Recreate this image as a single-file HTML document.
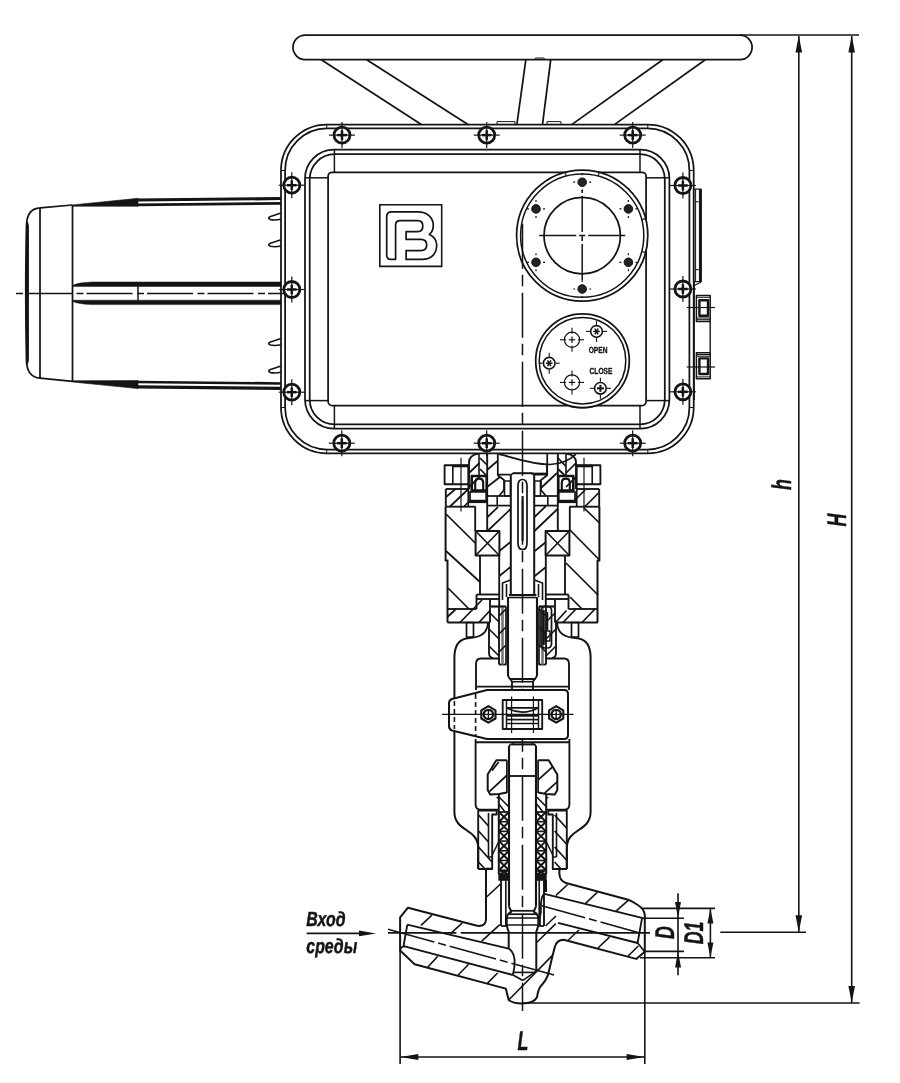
<!DOCTYPE html>
<html lang="ru"><head><meta charset="utf-8"><title>Клапан с электроприводом</title>
<style>
html,body{margin:0;padding:0;background:#fff;}
body{width:900px;height:1083px;overflow:hidden;}
svg{display:block;}
svg .g{fill:none;stroke:#141414;stroke-width:1.75;stroke-linecap:butt;stroke-linejoin:round;}
svg text{font-family:"Liberation Sans",sans-serif;fill:#141414;stroke:none;text-rendering:geometricPrecision;}
svg{will-change:transform;-webkit-font-smoothing:antialiased;}
svg .lab text{font-style:italic;font-weight:bold;stroke:#141414;stroke-width:0.45px;}
</style></head><body>
<svg width="900" height="1083" viewBox="0 0 900 1083">
<rect x="0" y="0" width="900" height="1083" fill="#fff"/>
<g class="g">
<g id="handwheel">
<rect x="293.0" y="35.1" width="459.1" height="24.5" rx="12.25"/>
<line x1="321.3" y1="59.8" x2="421.3" y2="124.4"/>
<line x1="366.7" y1="59.8" x2="468.0" y2="124.4"/>
<line x1="662.7" y1="59.8" x2="572.0" y2="124.4"/>
<line x1="705.3" y1="59.8" x2="614.7" y2="124.4"/>
<line x1="525.8" y1="59.8" x2="516.9" y2="124.4"/>
<line x1="550.7" y1="59.8" x2="542.5" y2="124.4"/>
<path d="M534.5,59.8 L535.5,58 L544,58 L545,59.8" stroke-width="1"/>
<rect x="497.0" y="121.6" width="18.0" height="2.8" stroke-width="1"/>
<rect x="547.0" y="121.6" width="14.0" height="2.8" stroke-width="1"/>
</g>
<g id="motor">
<path d="M72.5,205 L40,207.8 Q27.5,208.5 26.5,224 Q25,293 26.5,362 Q27.5,377 40,378.2 L72.5,381.4" stroke-width="1.7"/>
<path d="M27.5,222 Q25,293 27.5,364 L28.3,360 L28.3,226 Z" stroke-width="1.2" fill="#141414"/>
<line x1="40.0" y1="207.8" x2="40.0" y2="378.2"/>
<line x1="72.5" y1="205.0" x2="72.5" y2="381.4"/>
<path d="M72.5,204.9 L138.0,198.3 L138.0,206.3 L72.5,206.2 Z" stroke-width="0.6" fill="#141414"/>
<line x1="137.0" y1="200.0" x2="281.0" y2="198.5" stroke-width="3.2"/>
<line x1="137.0" y1="204.9" x2="281.0" y2="203.4" stroke-width="2.7"/>
<path d="M72.5,382.0 L138.0,388.6 L138.0,380.6 L72.5,380.7 Z" stroke-width="0.6" fill="#141414"/>
<line x1="137.0" y1="386.9" x2="281.0" y2="388.4" stroke-width="3.2"/>
<line x1="137.0" y1="382.0" x2="281.0" y2="383.5" stroke-width="2.7"/>
<path d="M281,282 L92,282 Q78,282.6 73,285.2 L73,286.4 L281,286.4 Z" stroke-width="0.5" fill="#141414"/>
<path d="M281,304.6 L92,304.6 Q78,304 73,301.4 L73,300.2 L281,300.2 Z" stroke-width="0.5" fill="#141414"/>
<line x1="138.0" y1="286.0" x2="138.0" y2="300.5" stroke-width="1.5"/>
<line x1="13.0" y1="293.5" x2="300.0" y2="293.5" stroke-width="1.4" stroke-dasharray="46 4.5 7 3"  stroke-dashoffset="-13"/>
<path d="M281,213 L270.5,216.6 Q266.8,218 270.5,219.6 Q275,220.6 281,219.3" stroke-width="1.6"/>
<path d="M281,239.7 L270.5,243.29999999999998 Q266.8,244.7 270.5,246.29999999999998 Q275,247.29999999999998 281,246.0" stroke-width="1.6"/>
<path d="M281,338.4 L270.5,342.0 Q266.8,343.4 270.5,345.0 Q275,346.0 281,344.7" stroke-width="1.6"/>
<path d="M281,366 L270.5,369.6 Q266.8,371 270.5,372.6 Q275,373.6 281,372.3" stroke-width="1.6"/>
</g>
<g id="housing">
<rect x="281.0" y="124.5" width="412.7" height="328.8" rx="46"/>
<rect x="285.1" y="128.4" width="404.3" height="321.1" rx="42"/>
<line x1="326.7" y1="124.5" x2="326.7" y2="128.4" stroke-width="1"/>
<line x1="647.8" y1="124.5" x2="647.8" y2="128.4" stroke-width="1"/>
<line x1="326.7" y1="449.5" x2="326.7" y2="453.3" stroke-width="1"/>
<line x1="647.8" y1="449.5" x2="647.8" y2="453.3" stroke-width="1"/>
<line x1="281.2" y1="170.5" x2="285.2" y2="170.5" stroke-width="1"/>
<line x1="281.2" y1="407.5" x2="285.2" y2="407.5" stroke-width="1"/>
<line x1="689.2" y1="170.5" x2="693.3" y2="170.5" stroke-width="1"/>
<line x1="689.2" y1="407.5" x2="693.3" y2="407.5" stroke-width="1"/>
<rect x="305.0" y="149.7" width="364.4" height="278.9" rx="29"/>
<rect x="309.7" y="154.2" width="355.1" height="270.2" rx="25"/>
<rect x="328.1" y="172.3" width="318.0" height="233.3" rx="4"/>
<line x1="334.4" y1="149.7" x2="334.4" y2="172.3" stroke-width="1.5"/>
<line x1="334.4" y1="405.6" x2="334.4" y2="428.6" stroke-width="1.5"/>
<line x1="640.0" y1="149.7" x2="640.0" y2="172.3" stroke-width="1.5"/>
<line x1="640.0" y1="405.6" x2="640.0" y2="428.6" stroke-width="1.5"/>
<line x1="305.4" y1="177.8" x2="328.4" y2="177.8" stroke-width="1.5"/>
<line x1="646.2" y1="177.8" x2="670.0" y2="177.8" stroke-width="1.5"/>
<line x1="305.4" y1="400.6" x2="328.4" y2="400.6" stroke-width="1.5"/>
<line x1="646.2" y1="400.6" x2="670.0" y2="400.6" stroke-width="1.5"/>
<rect x="693.6" y="189.2" width="7.6" height="92.4" stroke-width="1.3"/>
<line x1="700.2" y1="189.2" x2="700.2" y2="281.6" stroke-width="2.6"/>
<line x1="695.6" y1="201.8" x2="698.6" y2="201.8" stroke-width="1.1"/>
<line x1="695.6" y1="269.6" x2="698.6" y2="269.6" stroke-width="1.1"/>
<line x1="695.6" y1="189.2" x2="695.6" y2="281.6" stroke-width="1.0"/>
</g>
<g id="screws">
<circle cx="342.0" cy="135.1" r="8.0" stroke-width="2.8" fill="#fff"/>
<line x1="337.2" y1="135.1" x2="346.8" y2="135.1" stroke-width="2.5"/>
<line x1="342.0" y1="130.3" x2="342.0" y2="139.9" stroke-width="2.5"/>
<line x1="329.0" y1="135.1" x2="355.0" y2="135.1" stroke-width="1.2"/>
<line x1="342.0" y1="122.1" x2="342.0" y2="148.1" stroke-width="1.2"/>
<circle cx="486.7" cy="135.1" r="8.0" stroke-width="2.8" fill="#fff"/>
<line x1="481.9" y1="135.1" x2="491.5" y2="135.1" stroke-width="2.5"/>
<line x1="486.7" y1="130.3" x2="486.7" y2="139.9" stroke-width="2.5"/>
<line x1="473.7" y1="135.1" x2="499.7" y2="135.1" stroke-width="1.2"/>
<line x1="486.7" y1="122.1" x2="486.7" y2="148.1" stroke-width="1.2"/>
<circle cx="632.7" cy="135.1" r="8.0" stroke-width="2.8" fill="#fff"/>
<line x1="627.9" y1="135.1" x2="637.5" y2="135.1" stroke-width="2.5"/>
<line x1="632.7" y1="130.3" x2="632.7" y2="139.9" stroke-width="2.5"/>
<line x1="619.7" y1="135.1" x2="645.7" y2="135.1" stroke-width="1.2"/>
<line x1="632.7" y1="122.1" x2="632.7" y2="148.1" stroke-width="1.2"/>
<circle cx="341.8" cy="443.2" r="8.0" stroke-width="2.8" fill="#fff"/>
<line x1="337.0" y1="443.2" x2="346.6" y2="443.2" stroke-width="2.5"/>
<line x1="341.8" y1="438.4" x2="341.8" y2="448.0" stroke-width="2.5"/>
<line x1="328.8" y1="443.2" x2="354.8" y2="443.2" stroke-width="1.2"/>
<line x1="341.8" y1="430.2" x2="341.8" y2="456.2" stroke-width="1.2"/>
<circle cx="486.7" cy="443.2" r="8.0" stroke-width="2.8" fill="#fff"/>
<line x1="481.9" y1="443.2" x2="491.5" y2="443.2" stroke-width="2.5"/>
<line x1="486.7" y1="438.4" x2="486.7" y2="448.0" stroke-width="2.5"/>
<line x1="473.7" y1="443.2" x2="499.7" y2="443.2" stroke-width="1.2"/>
<line x1="486.7" y1="430.2" x2="486.7" y2="456.2" stroke-width="1.2"/>
<circle cx="632.7" cy="443.2" r="8.0" stroke-width="2.8" fill="#fff"/>
<line x1="627.9" y1="443.2" x2="637.5" y2="443.2" stroke-width="2.5"/>
<line x1="632.7" y1="438.4" x2="632.7" y2="448.0" stroke-width="2.5"/>
<line x1="619.7" y1="443.2" x2="645.7" y2="443.2" stroke-width="1.2"/>
<line x1="632.7" y1="430.2" x2="632.7" y2="456.2" stroke-width="1.2"/>
<circle cx="291.8" cy="185.2" r="8.0" stroke-width="2.8" fill="#fff"/>
<line x1="287.0" y1="185.2" x2="296.6" y2="185.2" stroke-width="2.5"/>
<line x1="291.8" y1="180.4" x2="291.8" y2="190.0" stroke-width="2.5"/>
<line x1="278.8" y1="185.2" x2="304.8" y2="185.2" stroke-width="1.2"/>
<line x1="291.8" y1="172.2" x2="291.8" y2="198.2" stroke-width="1.2"/>
<circle cx="291.8" cy="289.5" r="8.0" stroke-width="2.8" fill="#fff"/>
<line x1="287.0" y1="289.5" x2="296.6" y2="289.5" stroke-width="2.5"/>
<line x1="291.8" y1="284.7" x2="291.8" y2="294.3" stroke-width="2.5"/>
<line x1="278.8" y1="289.5" x2="304.8" y2="289.5" stroke-width="1.2"/>
<line x1="291.8" y1="276.5" x2="291.8" y2="302.5" stroke-width="1.2"/>
<circle cx="291.8" cy="392.2" r="8.0" stroke-width="2.8" fill="#fff"/>
<line x1="287.0" y1="392.2" x2="296.6" y2="392.2" stroke-width="2.5"/>
<line x1="291.8" y1="387.4" x2="291.8" y2="397.0" stroke-width="2.5"/>
<line x1="278.8" y1="392.2" x2="304.8" y2="392.2" stroke-width="1.2"/>
<line x1="291.8" y1="379.2" x2="291.8" y2="405.2" stroke-width="1.2"/>
<circle cx="682.9" cy="185.5" r="8.0" stroke-width="2.8" fill="#fff"/>
<line x1="678.1" y1="185.5" x2="687.7" y2="185.5" stroke-width="2.5"/>
<line x1="682.9" y1="180.7" x2="682.9" y2="190.3" stroke-width="2.5"/>
<line x1="669.9" y1="185.5" x2="695.9" y2="185.5" stroke-width="1.2"/>
<line x1="682.9" y1="172.5" x2="682.9" y2="198.5" stroke-width="1.2"/>
<circle cx="682.9" cy="289.0" r="8.0" stroke-width="2.8" fill="#fff"/>
<line x1="678.1" y1="289.0" x2="687.7" y2="289.0" stroke-width="2.5"/>
<line x1="682.9" y1="284.2" x2="682.9" y2="293.8" stroke-width="2.5"/>
<line x1="669.9" y1="289.0" x2="695.9" y2="289.0" stroke-width="1.2"/>
<line x1="682.9" y1="276.0" x2="682.9" y2="302.0" stroke-width="1.2"/>
<circle cx="682.9" cy="391.8" r="8.0" stroke-width="2.8" fill="#fff"/>
<line x1="678.1" y1="391.8" x2="687.7" y2="391.8" stroke-width="2.5"/>
<line x1="682.9" y1="387.0" x2="682.9" y2="396.6" stroke-width="2.5"/>
<line x1="669.9" y1="391.8" x2="695.9" y2="391.8" stroke-width="1.2"/>
<line x1="682.9" y1="378.8" x2="682.9" y2="404.8" stroke-width="1.2"/>
</g>
<g id="logo">
<rect x="379.8" y="204.7" width="61.9" height="61.7" stroke-width="1.6"/>
<path d="M395.6,259.4 L391,259.4 Q386.7,259.4 386.7,255 L386.7,216.7 Q386.7,211.9 391.5,211.9 L417.8,211.9 C427,211.9 433.3,217 433.3,225.6 C433.3,230 432,232.5 429.4,234.4 C434,236.5 436.7,240 436.7,245 C436.7,254 431,259.4 422.2,259.4 L406.1,259.4 L406.1,250.6 L420.6,250.6 C424.5,250.6 426.7,248.5 426.7,244.8 C426.7,241.5 424.5,239.4 420.6,239.4 L406.1,239.4 L406.1,231.7 L417.8,231.7 C421,231.7 422.8,229.5 422.8,226.1 C422.8,222.8 421,220.6 417.8,220.6 L400,220.6 Q395.6,220.6 395.6,225 Z" stroke-width="1.7"/>
</g>
<g id="bigcircle">
<circle cx="582.2" cy="235.6" r="65.6" fill="#fff"/>
<circle cx="582.2" cy="235.6" r="61.6" stroke-width="1.5"/>
<circle cx="582.2" cy="235.6" r="38.2"/>
<line x1="641.7" y1="251.5" x2="645.6" y2="252.6" stroke-width="1.2"/>
<line x1="641.7" y1="219.7" x2="645.6" y2="218.6" stroke-width="1.2"/>
<line x1="598.1" y1="176.1" x2="599.2" y2="172.2" stroke-width="1.2"/>
<line x1="566.3" y1="176.1" x2="565.2" y2="172.2" stroke-width="1.2"/>
<circle cx="582.2" cy="182.2" r="4.3" stroke-width="1" fill="#222"/>
<line x1="573.2" y1="182.2" x2="591.2" y2="182.2" stroke-width="1.2" stroke-dasharray="2 14 2"/>
<line x1="582.2" y1="173.2" x2="582.2" y2="191.2" stroke-width="1.2" stroke-dasharray="2 14 2"/>
<circle cx="536.0" cy="208.9" r="4.3" stroke-width="1" fill="#222"/>
<line x1="527.0" y1="208.9" x2="545.0" y2="208.9" stroke-width="1.2" stroke-dasharray="2 14 2"/>
<line x1="536.0" y1="199.9" x2="536.0" y2="217.9" stroke-width="1.2" stroke-dasharray="2 14 2"/>
<circle cx="536.0" cy="262.3" r="4.3" stroke-width="1" fill="#222"/>
<line x1="527.0" y1="262.3" x2="545.0" y2="262.3" stroke-width="1.2" stroke-dasharray="2 14 2"/>
<line x1="536.0" y1="253.3" x2="536.0" y2="271.3" stroke-width="1.2" stroke-dasharray="2 14 2"/>
<circle cx="582.2" cy="289.0" r="4.3" stroke-width="1" fill="#222"/>
<line x1="573.2" y1="289.0" x2="591.2" y2="289.0" stroke-width="1.2" stroke-dasharray="2 14 2"/>
<line x1="582.2" y1="280.0" x2="582.2" y2="298.0" stroke-width="1.2" stroke-dasharray="2 14 2"/>
<circle cx="628.4" cy="262.3" r="4.3" stroke-width="1" fill="#222"/>
<line x1="619.4" y1="262.3" x2="637.4" y2="262.3" stroke-width="1.2" stroke-dasharray="2 14 2"/>
<line x1="628.4" y1="253.3" x2="628.4" y2="271.3" stroke-width="1.2" stroke-dasharray="2 14 2"/>
<circle cx="628.4" cy="208.9" r="4.3" stroke-width="1" fill="#222"/>
<line x1="619.4" y1="208.9" x2="637.4" y2="208.9" stroke-width="1.2" stroke-dasharray="2 14 2"/>
<line x1="628.4" y1="199.9" x2="628.4" y2="217.9" stroke-width="1.2" stroke-dasharray="2 14 2"/>
<line x1="539.2" y1="235.6" x2="625.2" y2="235.6" stroke-width="1.5" stroke-dasharray="37 3 6 3 37"/>
<line x1="582.2" y1="190.0" x2="582.2" y2="281.0" stroke-width="1.5" stroke-dasharray="3 3 36 3 6 3 36 3 3"/>
</g>
<g id="smallcircle">
<circle cx="582.5" cy="360.7" r="46.8" fill="#fff"/>
<circle cx="582.5" cy="360.7" r="43.3" stroke-width="1.5"/>
<path d="M570,406.6 Q582,409.3 593.5,406.8" stroke-width="1.1"/>
<circle cx="572.0" cy="339.8" r="7.6" stroke-width="1.2"/>
<line x1="568.8" y1="339.8" x2="575.2" y2="339.8" stroke-width="1.2"/>
<line x1="572.0" y1="336.6" x2="572.0" y2="343.0" stroke-width="1.2"/>
<line x1="578.0" y1="339.8" x2="584.0" y2="339.8" stroke-width="1.1"/>
<line x1="566.0" y1="339.8" x2="560.0" y2="339.8" stroke-width="1.1"/>
<line x1="572.0" y1="345.8" x2="572.0" y2="351.8" stroke-width="1.1"/>
<line x1="572.0" y1="333.8" x2="572.0" y2="327.8" stroke-width="1.1"/>
<circle cx="572.0" cy="382.4" r="7.6" stroke-width="1.2"/>
<line x1="568.8" y1="382.4" x2="575.2" y2="382.4" stroke-width="1.2"/>
<line x1="572.0" y1="379.2" x2="572.0" y2="385.6" stroke-width="1.2"/>
<line x1="578.0" y1="382.4" x2="584.0" y2="382.4" stroke-width="1.1"/>
<line x1="566.0" y1="382.4" x2="560.0" y2="382.4" stroke-width="1.1"/>
<line x1="572.0" y1="388.4" x2="572.0" y2="394.4" stroke-width="1.1"/>
<line x1="572.0" y1="376.4" x2="572.0" y2="370.4" stroke-width="1.1"/>
<circle cx="596.5" cy="331.4" r="5.8" stroke-width="1.6"/>
<line x1="593.2" y1="331.4" x2="599.8" y2="331.4" stroke-width="1.5"/>
<line x1="594.9" y1="328.5" x2="598.1" y2="334.3" stroke-width="1.5"/>
<line x1="598.1" y1="328.5" x2="594.9" y2="334.3" stroke-width="1.5"/>
<line x1="603.0" y1="331.4" x2="607.0" y2="331.4" stroke-width="1.1"/>
<line x1="590.0" y1="331.4" x2="586.0" y2="331.4" stroke-width="1.1"/>
<line x1="596.5" y1="337.9" x2="596.5" y2="341.9" stroke-width="1.1"/>
<line x1="596.5" y1="324.9" x2="596.5" y2="320.9" stroke-width="1.1"/>
<circle cx="549.2" cy="363.2" r="5.8" stroke-width="1.6"/>
<line x1="545.9" y1="363.2" x2="552.5" y2="363.2" stroke-width="1.5"/>
<line x1="547.6" y1="360.3" x2="550.9" y2="366.1" stroke-width="1.5"/>
<line x1="550.9" y1="360.3" x2="547.6" y2="366.1" stroke-width="1.5"/>
<line x1="555.7" y1="363.2" x2="559.7" y2="363.2" stroke-width="1.1"/>
<line x1="542.7" y1="363.2" x2="538.7" y2="363.2" stroke-width="1.1"/>
<line x1="549.2" y1="369.7" x2="549.2" y2="373.7" stroke-width="1.1"/>
<line x1="549.2" y1="356.7" x2="549.2" y2="352.7" stroke-width="1.1"/>
<circle cx="600.4" cy="388.3" r="5.8" stroke-width="1.6"/>
<line x1="596.9" y1="388.3" x2="603.9" y2="388.3" stroke-width="2"/>
<line x1="600.4" y1="384.8" x2="600.4" y2="391.8" stroke-width="2"/>
<line x1="606.9" y1="388.3" x2="610.9" y2="388.3" stroke-width="1.1"/>
<line x1="593.9" y1="388.3" x2="589.9" y2="388.3" stroke-width="1.1"/>
<line x1="600.4" y1="394.8" x2="600.4" y2="398.8" stroke-width="1.1"/>
<line x1="600.4" y1="381.8" x2="600.4" y2="377.8" stroke-width="1.1"/>
<text x="0" y="0" transform="translate(588.7,353.3) scale(0.75,1)" font-size="8.8" font-weight="bold" style="stroke:#141414;stroke-width:0.35px">OPEN</text>
<text x="0" y="0" transform="translate(589.6,373.7) scale(0.75,1)" font-size="8.8" font-weight="bold" style="stroke:#141414;stroke-width:0.35px">CLOSE</text>
</g>
<g id="sidenuts">
<rect x="696.4" y="295.4" width="13.8" height="26.0" stroke-width="1.5"/>
<rect x="699.4" y="300.2" width="8.6" height="15.6" stroke-width="2.4"/>
<line x1="696.4" y1="297.3" x2="710.2" y2="297.3" stroke-width="1"/>
<line x1="696.4" y1="318.0" x2="710.2" y2="318.0" stroke-width="1.1"/>
<line x1="696.4" y1="319.7" x2="710.2" y2="319.7" stroke-width="1.1"/>
<line x1="686.8" y1="307.5" x2="715.0" y2="307.5" stroke-width="1.2"/>
<rect x="696.4" y="352.8" width="13.8" height="26.0" stroke-width="1.5"/>
<rect x="699.4" y="358.4" width="8.6" height="15.6" stroke-width="2.4"/>
<line x1="696.4" y1="376.9" x2="710.2" y2="376.9" stroke-width="1"/>
<line x1="696.4" y1="356.2" x2="710.2" y2="356.2" stroke-width="1.1"/>
<line x1="696.4" y1="354.5" x2="710.2" y2="354.5" stroke-width="1.1"/>
<line x1="686.8" y1="367.0" x2="715.0" y2="367.0" stroke-width="1.2"/>
<line x1="710.2" y1="321.4" x2="710.2" y2="352.8" stroke-width="1.4"/>
<line x1="694.2" y1="282.0" x2="694.2" y2="400.0" stroke-width="1.2"/>
<path d="M700.4,281 L700.4,282.5 L694.2,285.5" stroke-width="1.2"/>
</g>
<line x1="522.5" y1="223.7" x2="522.5" y2="1011.0" stroke-width="1.5" stroke-dasharray="45 6 11.5 6.5"/><g id="bearinghousing">
<rect x="444.6" y="465.2" width="23.7" height="19.0" stroke-width="1.86"/>
<rect x="576.7" y="465.2" width="23.7" height="19.0" stroke-width="1.86"/>
<line x1="452.8" y1="465.2" x2="452.8" y2="484.2" stroke-width="1.6"/>
<line x1="592.2" y1="465.2" x2="592.2" y2="484.2" stroke-width="1.6"/>
<line x1="452.8" y1="466.0" x2="468.3" y2="466.0" stroke-width="2.6"/>
<line x1="592.2" y1="466.0" x2="576.7" y2="466.0" stroke-width="2.6"/>
<line x1="461.0" y1="457.8" x2="461.0" y2="511.5" stroke-width="1.2"/>
<line x1="584.0" y1="457.8" x2="584.0" y2="511.5" stroke-width="1.2"/>
<path d="M469.0,489 L469.0,462 Q469.3,455 478.0,453.8" stroke-width="1.86"/>
<path d="M576.0,489 L576.0,462 Q575.7,455 567.0,453.8" stroke-width="1.86"/>
<line x1="479.0" y1="453.8" x2="479.0" y2="476.0" stroke-width="1.6"/>
<line x1="566.0" y1="453.8" x2="566.0" y2="476.0" stroke-width="1.6"/>
<line x1="487.2" y1="453.8" x2="487.2" y2="530.6" stroke-width="1.86"/>
<line x1="557.8" y1="453.8" x2="557.8" y2="530.6" stroke-width="1.86"/>
<line x1="497.8" y1="453.8" x2="497.8" y2="475.0" stroke-width="1.73"/>
<line x1="547.2" y1="453.8" x2="547.2" y2="475.0" stroke-width="1.73"/>
<path d="M497.5,475.0 L504.0,480.0 L504.0,490.0 L499.0,496.0" stroke-width="1.73"/>
<path d="M547.5,475.0 L541.0,480.0 L541.0,490.0 L546.0,496.0" stroke-width="1.73"/>
<rect x="504.5" y="481.0" width="6.0" height="15.0" stroke-width="1.6"/>
<rect x="534.5" y="481.0" width="6.0" height="15.0" stroke-width="1.6"/>
<line x1="497.5" y1="474.6" x2="510.6" y2="474.6" stroke-width="1.73"/>
<line x1="547.5" y1="474.6" x2="534.4" y2="474.6" stroke-width="1.73"/>
<path d="M499,454.2 C510,456.5 530,464.5 550,464.5 C562,464 570,460 576,454.2" stroke-width="1.73"/>
<path d="M471.7,476.0 L486.7,476.0 L486.7,490.6 L471.7,490.6 Z" stroke-width="2.6"/>
<path d="M475.2,490 L475.2,483 Q475.2,478.6 479.2,478.6 Q483.2,478.6 483.2,483 L483.2,490" stroke-width="2.13"/>
<path d="M573.3,476.0 L558.3,476.0 L558.3,490.6 L573.3,490.6 Z" stroke-width="2.6"/>
<path d="M569.8,490 L569.8,483 Q569.8,478.6 565.8,478.6 Q561.8,478.6 561.8,483 L561.8,490" stroke-width="2.13"/>
<rect x="470.0" y="491.8" width="16.2" height="8.8" stroke-width="1.73"/>
<rect x="558.8" y="491.8" width="16.2" height="8.8" stroke-width="1.73"/>
<line x1="468.3" y1="501.8" x2="487.2" y2="501.8" stroke-width="2.6"/>
<line x1="576.7" y1="501.8" x2="557.8" y2="501.8" stroke-width="2.6"/>
<line x1="445.8" y1="489.0" x2="468.3" y2="489.0" stroke-width="1.86"/>
<line x1="599.2" y1="489.0" x2="576.7" y2="489.0" stroke-width="1.86"/>
<line x1="445.8" y1="489.0" x2="445.8" y2="506.7" stroke-width="1.86"/>
<line x1="599.2" y1="489.0" x2="599.2" y2="506.7" stroke-width="1.86"/>
<line x1="445.8" y1="506.7" x2="475.6" y2="506.7" stroke-width="1.86"/>
<line x1="599.2" y1="506.7" x2="569.4" y2="506.7" stroke-width="1.86"/>
<line x1="468.3" y1="484.2" x2="468.3" y2="506.7" stroke-width="1.73"/>
<line x1="576.7" y1="484.2" x2="576.7" y2="506.7" stroke-width="1.73"/>
<line x1="487.2" y1="496.0" x2="510.6" y2="496.0" stroke-width="1.73"/>
<line x1="557.8" y1="496.0" x2="534.4" y2="496.0" stroke-width="1.73"/>
<line x1="487.2" y1="505.6" x2="510.6" y2="505.6" stroke-width="1.73"/>
<line x1="557.8" y1="505.6" x2="534.4" y2="505.6" stroke-width="1.73"/>
<line x1="497.2" y1="496.0" x2="497.2" y2="505.6" stroke-width="1.6"/>
<line x1="547.8" y1="496.0" x2="547.8" y2="505.6" stroke-width="1.6"/>
<path d="M445.6,506.7 L445.6,560.5 L447.5,560.5 L447.5,622.5" stroke-width="2.0"/>
<path d="M599.4,506.7 L599.4,560.5 L597.5,560.5 L597.5,622.5" stroke-width="2.0"/>
<line x1="475.2" y1="506.7" x2="475.2" y2="531.0" stroke-width="1.86"/>
<line x1="569.8" y1="506.7" x2="569.8" y2="531.0" stroke-width="1.86"/>
<rect x="475.6" y="531.0" width="23.8" height="24.5" stroke-width="2.0"/>
<line x1="475.6" y1="531.0" x2="499.4" y2="555.5" stroke-width="1.6"/>
<line x1="475.6" y1="555.5" x2="499.4" y2="531.0" stroke-width="1.6"/>
<rect x="545.6" y="531.0" width="23.8" height="24.5" stroke-width="2.0"/>
<line x1="569.4" y1="531.0" x2="545.6" y2="555.5" stroke-width="1.6"/>
<line x1="569.4" y1="555.5" x2="545.6" y2="531.0" stroke-width="1.6"/>
<line x1="480.0" y1="556.0" x2="480.0" y2="594.5" stroke-width="1.86"/>
<line x1="565.0" y1="556.0" x2="565.0" y2="594.5" stroke-width="1.86"/>
<line x1="499.2" y1="556.0" x2="499.2" y2="606.5" stroke-width="1.86"/>
<line x1="545.8" y1="556.0" x2="545.8" y2="606.5" stroke-width="1.86"/>
<line x1="476.5" y1="594.5" x2="499.2" y2="594.5" stroke-width="1.86"/>
<line x1="568.5" y1="594.5" x2="545.8" y2="594.5" stroke-width="1.86"/>
<line x1="476.5" y1="599.0" x2="499.2" y2="599.0" stroke-width="1.86"/>
<line x1="568.5" y1="599.0" x2="545.8" y2="599.0" stroke-width="1.86"/>
<line x1="476.5" y1="594.5" x2="476.5" y2="609.0" stroke-width="1.86"/>
<line x1="568.5" y1="594.5" x2="568.5" y2="609.0" stroke-width="1.86"/>
<line x1="490.0" y1="599.0" x2="490.0" y2="622.5" stroke-width="1.86"/>
<line x1="555.0" y1="599.0" x2="555.0" y2="622.5" stroke-width="1.86"/>
<line x1="491.0" y1="606.5" x2="506.0" y2="606.5" stroke-width="1.73"/>
<line x1="554.0" y1="606.5" x2="539.0" y2="606.5" stroke-width="1.73"/>
<path d="M502.5,600.0 L502.5,583.0 L510.6,580.0" stroke-width="1.6"/>
<path d="M542.5,600.0 L542.5,583.0 L534.4,580.0" stroke-width="1.6"/>
<line x1="506.5" y1="584.0" x2="506.5" y2="597.0" stroke-width="1.6"/>
<line x1="538.5" y1="584.0" x2="538.5" y2="597.0" stroke-width="1.6"/>
<line x1="510.8" y1="474.6" x2="510.8" y2="595.0" stroke-width="2.0"/>
<line x1="534.2" y1="474.6" x2="534.2" y2="595.0" stroke-width="2.0"/>
<line x1="513.0" y1="473.2" x2="532.4" y2="473.2" stroke-width="2.0"/>
<line x1="513.0" y1="473.2" x2="511.0" y2="475.0" stroke-width="1.6"/>
<line x1="532.0" y1="473.2" x2="534.0" y2="475.0" stroke-width="1.6"/>
<line x1="531.0" y1="473.5" x2="547.0" y2="473.5" stroke-width="1.73"/>
<line x1="547.0" y1="464.5" x2="547.0" y2="473.5" stroke-width="1.73"/>
<path d="M518,486 Q518,479.5 522.5,479.5 Q527,479.5 527,486 L527,543 Q527,549.5 522.5,549.5 Q518,549.5 518,543 Z" stroke-width="1.73"/>
<line x1="522.6" y1="496.0" x2="522.6" y2="541.0" stroke-width="2.13"/>
<line x1="509.0" y1="595.0" x2="536.4" y2="595.0" stroke-width="2.0"/>
<line x1="509.0" y1="597.5" x2="536.4" y2="597.5" stroke-width="1.6"/>
<line x1="447.5" y1="609.0" x2="476.5" y2="609.0" stroke-width="1.86"/>
<line x1="597.5" y1="609.0" x2="568.5" y2="609.0" stroke-width="1.86"/>
<line x1="447.5" y1="622.5" x2="490.0" y2="622.5" stroke-width="2.13"/>
<line x1="555.4" y1="622.5" x2="597.9" y2="622.5" stroke-width="2.13"/>
<line x1="469.0" y1="473.0" x2="479.5" y2="463.0" stroke-width="1.73"/>
<line x1="469.0" y1="487.0" x2="479.5" y2="477.0" stroke-width="1.73"/>
<line x1="480.0" y1="458.0" x2="487.0" y2="465.0" stroke-width="1.73"/>
<line x1="480.0" y1="469.0" x2="487.0" y2="476.0" stroke-width="1.73"/>
<line x1="487.0" y1="470.0" x2="497.5" y2="461.0" stroke-width="1.73"/>
<line x1="487.0" y1="487.0" x2="500.0" y2="477.0" stroke-width="1.73"/>
<line x1="487.5" y1="517.0" x2="498.0" y2="507.0" stroke-width="1.73"/>
<line x1="487.5" y1="531.0" x2="510.6" y2="509.0" stroke-width="1.73"/>
<line x1="499.4" y1="551.0" x2="510.6" y2="542.0" stroke-width="1.73"/>
<line x1="499.4" y1="576.0" x2="510.6" y2="567.0" stroke-width="1.73"/>
<line x1="446.0" y1="497.0" x2="456.0" y2="488.5" stroke-width="1.73"/>
<line x1="450.0" y1="506.5" x2="469.0" y2="488.5" stroke-width="1.73"/>
<line x1="464.0" y1="506.5" x2="469.0" y2="501.5" stroke-width="1.73"/>
<line x1="446.0" y1="514.0" x2="475.2" y2="543.0" stroke-width="1.73"/>
<line x1="446.0" y1="551.0" x2="480.0" y2="582.0" stroke-width="1.73"/>
<line x1="448.0" y1="588.0" x2="469.0" y2="609.0" stroke-width="1.73"/>
<line x1="447.5" y1="617.0" x2="456.0" y2="609.0" stroke-width="1.73"/>
<line x1="460.0" y1="622.5" x2="482.0" y2="600.0" stroke-width="1.73"/>
<line x1="479.0" y1="622.5" x2="490.0" y2="610.5" stroke-width="1.73"/>
<line x1="566.0" y1="473.0" x2="576.0" y2="463.0" stroke-width="1.73"/>
<line x1="566.0" y1="487.0" x2="576.0" y2="477.0" stroke-width="1.73"/>
<line x1="558.0" y1="458.0" x2="565.5" y2="466.0" stroke-width="1.73"/>
<line x1="558.0" y1="469.0" x2="565.5" y2="476.0" stroke-width="1.73"/>
<line x1="541.0" y1="488.0" x2="557.0" y2="473.0" stroke-width="1.73"/>
<line x1="534.5" y1="517.0" x2="546.0" y2="506.0" stroke-width="1.73"/>
<line x1="534.5" y1="531.0" x2="557.5" y2="509.0" stroke-width="1.73"/>
<line x1="534.8" y1="551.0" x2="546.0" y2="542.0" stroke-width="1.73"/>
<line x1="534.8" y1="576.0" x2="546.0" y2="567.0" stroke-width="1.73"/>
<line x1="575.0" y1="500.0" x2="585.0" y2="490.0" stroke-width="1.73"/>
<line x1="585.0" y1="506.5" x2="598.5" y2="493.0" stroke-width="1.73"/>
<line x1="584.0" y1="508.0" x2="599.5" y2="523.0" stroke-width="1.73"/>
<line x1="570.0" y1="530.0" x2="599.5" y2="560.0" stroke-width="1.73"/>
<line x1="566.0" y1="563.0" x2="598.0" y2="595.0" stroke-width="1.73"/>
<line x1="570.0" y1="597.0" x2="582.0" y2="609.0" stroke-width="1.73"/>
<line x1="563.0" y1="622.5" x2="576.0" y2="609.0" stroke-width="1.73"/>
<line x1="555.5" y1="622.5" x2="566.5" y2="610.5" stroke-width="1.73"/>
<line x1="582.0" y1="622.5" x2="595.0" y2="609.0" stroke-width="1.73"/>
<rect x="466.5" y="622.5" width="7.0" height="14.5" stroke-width="1.73"/>
<rect x="571.5" y="622.5" width="7.0" height="14.5" stroke-width="1.73"/>
</g>
<g id="yoke">
<path d="M488.0,623 Q487.0,636 473.0,637.5 L466.0,638.5" stroke-width="1.86"/>
<path d="M466.0,638.5 Q454.6,641 454.4,657 L454.4,812 C454.4,832 478.2,828 478.2,848 L478.2,869" stroke-width="2.0"/>
<path d="M499.0,658.5 L481.0,658.5 Q476.0,658.5 476.0,664 L476.0,690" stroke-width="1.86"/>
<path d="M475.6,739 L475.6,804.5 Q475.6,809.6 480.8,809.6 L499.0,809.6" stroke-width="1.86"/>
<path d="M557.0,623 Q558.0,636 572.0,637.5 L579.0,638.5" stroke-width="1.86"/>
<path d="M579.0,638.5 Q590.4,641 590.6,657 L590.6,812 C590.6,832 566.8,828 566.8,848 L566.8,869" stroke-width="2.0"/>
<path d="M546.0,658.5 L564.0,658.5 Q569.0,658.5 569.0,664 L569.0,690" stroke-width="1.86"/>
<path d="M569.4,739 L569.4,804.5 Q569.4,809.6 564.2,809.6 L546.0,809.6" stroke-width="1.86"/>
<line x1="476.0" y1="686.6" x2="569.4" y2="686.6" stroke-width="1.86"/>
<line x1="475.6" y1="742.2" x2="569.8" y2="742.2" stroke-width="1.86"/>
<path d="M489.0,622.5 L489.0,653.5 Q489.3,657.5 493.0,658 " stroke-width="1.86"/>
<line x1="499.0" y1="606.5" x2="499.0" y2="664.5" stroke-width="1.86"/>
<line x1="506.0" y1="606.5" x2="506.0" y2="664.5" stroke-width="1.73"/>
<line x1="499.0" y1="664.5" x2="506.5" y2="664.5" stroke-width="1.86"/>
<line x1="502.5" y1="606.5" x2="502.5" y2="664.5" stroke-width="2.6" stroke="#777"/>
<line x1="491.0" y1="606.5" x2="506.0" y2="606.5" stroke-width="1.73"/>
<path d="M556.0,622.5 L556.0,653.5 Q555.7,657.5 552.0,658 " stroke-width="1.86"/>
<line x1="546.0" y1="606.5" x2="546.0" y2="664.5" stroke-width="1.86"/>
<line x1="539.0" y1="606.5" x2="539.0" y2="664.5" stroke-width="1.73"/>
<line x1="546.0" y1="664.5" x2="538.5" y2="664.5" stroke-width="1.86"/>
<line x1="542.5" y1="606.5" x2="542.5" y2="664.5" stroke-width="2.6" stroke="#777"/>
<line x1="554.0" y1="606.5" x2="539.0" y2="606.5" stroke-width="1.73"/>
<line x1="490.0" y1="613.0" x2="499.0" y2="622.0" stroke-width="1.6"/>
<line x1="489.0" y1="629.0" x2="499.0" y2="639.0" stroke-width="1.6"/>
<line x1="489.0" y1="646.0" x2="499.0" y2="656.0" stroke-width="1.6"/>
<line x1="499.0" y1="616.0" x2="506.0" y2="609.0" stroke-width="1.6"/>
<line x1="499.0" y1="634.0" x2="506.0" y2="627.0" stroke-width="1.6"/>
<line x1="499.0" y1="652.0" x2="506.0" y2="645.0" stroke-width="1.6"/>
<line x1="555.0" y1="613.0" x2="546.0" y2="622.0" stroke-width="1.6"/>
<line x1="556.0" y1="629.0" x2="546.0" y2="639.0" stroke-width="1.6"/>
<line x1="556.0" y1="646.0" x2="546.0" y2="656.0" stroke-width="1.6"/>
<line x1="546.0" y1="616.0" x2="539.0" y2="609.0" stroke-width="1.6"/>
<line x1="546.0" y1="634.0" x2="539.0" y2="627.0" stroke-width="1.6"/>
<line x1="546.0" y1="652.0" x2="539.0" y2="645.0" stroke-width="1.6"/>
<line x1="508.0" y1="597.0" x2="508.0" y2="676.0" stroke-width="2.13"/>
<line x1="537.0" y1="597.0" x2="537.0" y2="676.0" stroke-width="2.13"/>
<path d="M508.0,676.0 L510.0,679.0 L512.0,681.5 L512.0,690.0" stroke-width="1.86"/>
<path d="M537.0,676.0 L535.0,679.0 L533.0,681.5 L533.0,690.0" stroke-width="1.86"/>
<line x1="510.0" y1="679.0" x2="535.4" y2="679.0" stroke-width="2.0"/>
<line x1="512.0" y1="681.7" x2="533.4" y2="681.7" stroke-width="1.6"/>
<rect x="541.0" y="606.5" width="10.5" height="41.5" rx="4" stroke-width="1.73"/>
<line x1="543.5" y1="610.0" x2="543.5" y2="645.0" stroke-width="2.6"/>
<line x1="547.5" y1="612.0" x2="547.5" y2="630.0" stroke-width="1.6"/>
<rect x="545.0" y="631.0" width="5.0" height="10.0" stroke-width="1.33"/>
</g>
<g id="crosshead">
<path d="M564,690 L487,690 L452,699 Q449,700 449,703.5 L449,726 Q449,729.5 452,730.5 L487,739 L564,739 Q568,739 568,735 L568,694 Q568,690 564,690 Z" stroke-width="2.0" fill="#fff"/>
<line x1="454.4" y1="701.0" x2="454.4" y2="729.0" stroke-width="1.6" stroke-dasharray="5 3"/>
<line x1="475.6" y1="694.0" x2="475.6" y2="736.0" stroke-width="1.6" stroke-dasharray="5 3"/>
<rect x="502.7" y="700.0" width="39.5" height="29.0" stroke-width="1.86"/>
<line x1="442.0" y1="714.4" x2="573.5" y2="714.4" stroke-width="1.33"/>
<path d="M495.5,718.5 L488.4,722.6 L481.3,718.5 L481.3,710.3 L488.4,706.2 L495.5,710.3 Z" stroke-width="2.13"/>
<circle cx="488.4" cy="714.4" r="4.6" stroke-width="2.26"/>
<line x1="488.4" y1="710.5" x2="488.4" y2="718.3" stroke-width="1.33"/>
<path d="M563.3,718.5 L556.2,722.6 L549.1,718.5 L549.1,710.3 L556.2,706.2 L563.3,710.3 Z" stroke-width="2.13"/>
<circle cx="556.2" cy="714.4" r="4.6" stroke-width="2.26"/>
<line x1="556.2" y1="710.5" x2="556.2" y2="718.3" stroke-width="1.33"/>
<line x1="506.5" y1="707.8" x2="538.5" y2="707.8" stroke-width="1.73"/>
<path d="M506.5,707.8 Q522.5,716.5 538.5,707.8" stroke-width="1.6"/>
<line x1="506.0" y1="715.4" x2="539.0" y2="715.4" stroke-width="2.6"/>
<line x1="507.0" y1="719.6" x2="538.0" y2="719.6" stroke-width="1.73"/>
<line x1="507.0" y1="723.5" x2="538.0" y2="723.5" stroke-width="1.46"/>
<line x1="506.5" y1="700.0" x2="506.5" y2="729.0" stroke-width="1.46"/>
<line x1="538.5" y1="700.0" x2="538.5" y2="729.0" stroke-width="1.46"/>
<line x1="511.6" y1="696.5" x2="511.6" y2="733.0" stroke-width="1.2"/>
<line x1="533.4" y1="696.5" x2="533.4" y2="733.0" stroke-width="1.2"/>
</g>
<g id="stem">
<line x1="509.0" y1="746.0" x2="509.0" y2="906.7" stroke-width="2.13"/>
<line x1="536.0" y1="746.0" x2="536.0" y2="906.7" stroke-width="2.13"/>
<line x1="510.5" y1="744.4" x2="535.0" y2="744.4" stroke-width="2.0"/>
<line x1="509.0" y1="746.0" x2="510.5" y2="744.4" stroke-width="1.6"/>
<line x1="536.0" y1="746.0" x2="534.5" y2="744.4" stroke-width="1.6"/>
<line x1="513.0" y1="742.2" x2="513.0" y2="744.4" stroke-width="1.33"/>
<line x1="532.4" y1="742.2" x2="532.4" y2="744.4" stroke-width="1.33"/>
<line x1="509.0" y1="776.0" x2="536.4" y2="776.0" stroke-width="1.86"/>
<path d="M506.9,760.2 L496.3,760.2 L487.7,774.4 L487.7,790 L490.2,794.6 L499.0,794 L506.9,792.6" stroke-width="2.0"/>
<line x1="506.9" y1="760.2" x2="506.9" y2="793.0" stroke-width="1.73"/>
<line x1="498.8" y1="794.0" x2="498.8" y2="874.4" stroke-width="2.0"/>
<line x1="496.5" y1="797.6" x2="499.0" y2="797.6" stroke-width="1.46"/>
<line x1="498.8" y1="812.0" x2="509.0" y2="812.0" stroke-width="1.73"/>
<path d="M538.1,760.2 L548.7,760.2 L557.3,774.4 L557.3,790 L554.8,794.6 L546.0,794 L538.1,792.6" stroke-width="2.0"/>
<line x1="538.1" y1="760.2" x2="538.1" y2="793.0" stroke-width="1.73"/>
<line x1="546.2" y1="794.0" x2="546.2" y2="874.4" stroke-width="2.0"/>
<line x1="548.5" y1="797.6" x2="546.0" y2="797.6" stroke-width="1.46"/>
<line x1="546.2" y1="812.0" x2="536.0" y2="812.0" stroke-width="1.73"/>
<line x1="492.0" y1="770.6" x2="498.7" y2="762.0" stroke-width="1.73"/>
<line x1="489.6" y1="791.3" x2="506.7" y2="775.5" stroke-width="1.73"/>
<line x1="538.5" y1="779.7" x2="553.1" y2="766.3" stroke-width="1.73"/>
<line x1="544.6" y1="793.2" x2="557.4" y2="781.6" stroke-width="1.73"/>
<line x1="499.0" y1="797.0" x2="509.0" y2="807.0" stroke-width="1.6"/>
<line x1="499.0" y1="804.0" x2="505.0" y2="812.0" stroke-width="1.6"/>
<line x1="536.6" y1="797.0" x2="546.6" y2="807.0" stroke-width="1.6"/>
<line x1="536.6" y1="804.0" x2="543.0" y2="812.0" stroke-width="1.6"/>
<line x1="499.0" y1="812.0" x2="509.0" y2="821.7" stroke-width="2.0"/>
<line x1="499.0" y1="821.7" x2="509.0" y2="812.0" stroke-width="2.0"/>
<line x1="499.0" y1="821.7" x2="509.0" y2="821.7" stroke-width="1.6"/>
<line x1="499.0" y1="821.7" x2="509.0" y2="831.4" stroke-width="2.0"/>
<line x1="499.0" y1="831.4" x2="509.0" y2="821.7" stroke-width="2.0"/>
<line x1="499.0" y1="831.4" x2="509.0" y2="831.4" stroke-width="1.6"/>
<line x1="499.0" y1="831.4" x2="509.0" y2="841.1" stroke-width="2.0"/>
<line x1="499.0" y1="841.1" x2="509.0" y2="831.4" stroke-width="2.0"/>
<line x1="499.0" y1="841.1" x2="509.0" y2="841.1" stroke-width="1.6"/>
<line x1="499.0" y1="841.1" x2="509.0" y2="850.8" stroke-width="2.0"/>
<line x1="499.0" y1="850.8" x2="509.0" y2="841.1" stroke-width="2.0"/>
<line x1="499.0" y1="850.8" x2="509.0" y2="850.8" stroke-width="1.6"/>
<line x1="499.0" y1="850.8" x2="509.0" y2="860.5" stroke-width="2.0"/>
<line x1="499.0" y1="860.5" x2="509.0" y2="850.8" stroke-width="2.0"/>
<line x1="499.0" y1="860.5" x2="509.0" y2="860.5" stroke-width="1.6"/>
<line x1="499.0" y1="860.5" x2="509.0" y2="870.2" stroke-width="2.0"/>
<line x1="499.0" y1="870.2" x2="509.0" y2="860.5" stroke-width="2.0"/>
<line x1="499.0" y1="870.2" x2="509.0" y2="870.2" stroke-width="1.6"/>
<line x1="499.0" y1="870.2" x2="509.0" y2="874.4" stroke-width="2.0"/>
<line x1="499.0" y1="874.4" x2="509.0" y2="870.2" stroke-width="2.0"/>
<line x1="499.0" y1="874.4" x2="509.0" y2="874.4" stroke-width="1.6"/>
<rect x="499.0" y="874.4" width="10.0" height="5.8" stroke-width="1.33" fill="#141414"/>
<line x1="546.0" y1="812.0" x2="536.0" y2="821.7" stroke-width="2.0"/>
<line x1="546.0" y1="821.7" x2="536.0" y2="812.0" stroke-width="2.0"/>
<line x1="546.0" y1="821.7" x2="536.0" y2="821.7" stroke-width="1.6"/>
<line x1="546.0" y1="821.7" x2="536.0" y2="831.4" stroke-width="2.0"/>
<line x1="546.0" y1="831.4" x2="536.0" y2="821.7" stroke-width="2.0"/>
<line x1="546.0" y1="831.4" x2="536.0" y2="831.4" stroke-width="1.6"/>
<line x1="546.0" y1="831.4" x2="536.0" y2="841.1" stroke-width="2.0"/>
<line x1="546.0" y1="841.1" x2="536.0" y2="831.4" stroke-width="2.0"/>
<line x1="546.0" y1="841.1" x2="536.0" y2="841.1" stroke-width="1.6"/>
<line x1="546.0" y1="841.1" x2="536.0" y2="850.8" stroke-width="2.0"/>
<line x1="546.0" y1="850.8" x2="536.0" y2="841.1" stroke-width="2.0"/>
<line x1="546.0" y1="850.8" x2="536.0" y2="850.8" stroke-width="1.6"/>
<line x1="546.0" y1="850.8" x2="536.0" y2="860.5" stroke-width="2.0"/>
<line x1="546.0" y1="860.5" x2="536.0" y2="850.8" stroke-width="2.0"/>
<line x1="546.0" y1="860.5" x2="536.0" y2="860.5" stroke-width="1.6"/>
<line x1="546.0" y1="860.5" x2="536.0" y2="870.2" stroke-width="2.0"/>
<line x1="546.0" y1="870.2" x2="536.0" y2="860.5" stroke-width="2.0"/>
<line x1="546.0" y1="870.2" x2="536.0" y2="870.2" stroke-width="1.6"/>
<line x1="546.0" y1="870.2" x2="536.0" y2="874.4" stroke-width="2.0"/>
<line x1="546.0" y1="874.4" x2="536.0" y2="870.2" stroke-width="2.0"/>
<line x1="546.0" y1="874.4" x2="536.0" y2="874.4" stroke-width="1.6"/>
<rect x="536.0" y="874.4" width="10.0" height="5.8" stroke-width="1.33" fill="#141414"/>
</g>
<g id="neck">
<path d="M478.2,869.0 L478.2,810.6 L496.7,810.6 L496.7,814.5 L492.2,814.5 L492.2,869.0 L478.2,869.0" stroke-width="1.86"/>
<line x1="488.5" y1="813.0" x2="488.5" y2="857.0" stroke-width="1.6"/>
<line x1="488.5" y1="857.0" x2="492.2" y2="857.0" stroke-width="1.46"/>
<path d="M566.8,869.0 L566.8,810.6 L548.3,810.6 L548.3,814.5 L552.8,814.5 L552.8,869.0 L566.8,869.0" stroke-width="1.86"/>
<line x1="556.5" y1="813.0" x2="556.5" y2="857.0" stroke-width="1.6"/>
<line x1="556.5" y1="857.0" x2="552.8" y2="857.0" stroke-width="1.46"/>
<line x1="478.5" y1="815.0" x2="488.5" y2="826.0" stroke-width="1.73"/>
<line x1="478.5" y1="831.0" x2="488.5" y2="842.0" stroke-width="1.73"/>
<line x1="478.5" y1="847.0" x2="492.0" y2="862.0" stroke-width="1.73"/>
<line x1="478.5" y1="862.0" x2="485.0" y2="869.0" stroke-width="1.73"/>
<line x1="554.6" y1="815.0" x2="566.5" y2="828.0" stroke-width="1.73"/>
<line x1="554.6" y1="831.0" x2="566.5" y2="844.0" stroke-width="1.73"/>
<line x1="554.6" y1="847.0" x2="566.5" y2="860.0" stroke-width="1.73"/>
<line x1="554.6" y1="862.0" x2="561.0" y2="869.0" stroke-width="1.73"/>
<line x1="492.2" y1="855.0" x2="498.6" y2="842.0" stroke-width="1.46"/>
<line x1="552.8" y1="855.0" x2="546.4" y2="842.0" stroke-width="1.46"/>
</g><g id="body">
<path d="M486,868.5 L486,918.5 Q486,928 475.2,925.3 L408,907.7 L400.1,917.4 L400.1,950.6 L414.6,964.3 L505.8,988.6 L508.7,1000 Q513,1003.3 522,1003.6 Q534,1003.2 537,997.3 Q538,990 540.5,986.5 Q547.5,979 548.7,972 L552.2,957.3 L554.8,947 Q556.5,940 563.8,939.8 L636.2,958.9 L644.8,951.7 L644.8,915 Q644,908.5 637,904.5 Q632,901 628.2,899.7 L566,883 Q559.6,881 559.4,873.5 L559.4,868.5" stroke-width="2.0"/>
<path d="M407.3,924.6 L508.7,948.6 Q513.5,952 514.4,958.6 Q515.2,966 513,974.5" stroke-width="1.86"/>
<path d="M407.3,924.6 L403.8,944.5 Q403.6,946.2 404.6,946.4 L513,975" stroke-width="1.86"/>
<path d="M400.1,950.6 Q400.5,946.5 404.6,946.4" stroke-width="1.6"/>
<line x1="388.0" y1="929.2" x2="554.0" y2="975.0" stroke-width="1.6" stroke-dasharray="48 4 8 4"/>
<line x1="388.0" y1="932.8" x2="456.4" y2="932.8" stroke-width="1.73"/>
<line x1="460.8" y1="932.8" x2="650.0" y2="932.8" stroke-width="1.73"/>
<line x1="421.0" y1="925.3" x2="431.9" y2="915.2" stroke-width="1.6"/>
<line x1="450.7" y1="933.3" x2="462.2" y2="923.2" stroke-width="1.6"/>
<line x1="481.7" y1="941.2" x2="499.8" y2="924.6" stroke-width="1.6"/>
<line x1="427.6" y1="967.2" x2="437.7" y2="956.4" stroke-width="1.6"/>
<line x1="457.9" y1="975.2" x2="468.7" y2="964.3" stroke-width="1.6"/>
<line x1="487.5" y1="983.1" x2="497.6" y2="973.0" stroke-width="1.6"/>
<line x1="508.7" y1="1000.0" x2="552.2" y2="955.6" stroke-width="1.6"/>
<line x1="522.9" y1="980.4" x2="537.0" y2="970.7" stroke-width="1.6"/>
<line x1="514.0" y1="972.4" x2="535.3" y2="972.4" stroke-width="1.6"/>
<line x1="513.0" y1="975.0" x2="522.9" y2="980.4" stroke-width="1.73"/>
<line x1="501.0" y1="880.2" x2="501.0" y2="926.0" stroke-width="1.86"/>
<line x1="505.8" y1="880.2" x2="505.8" y2="926.0" stroke-width="1.6"/>
<line x1="501.0" y1="926.0" x2="506.7" y2="926.0" stroke-width="1.73"/>
<line x1="544.0" y1="880.2" x2="544.0" y2="926.0" stroke-width="1.86"/>
<line x1="539.2" y1="880.2" x2="539.2" y2="926.0" stroke-width="1.6"/>
<line x1="544.0" y1="926.0" x2="538.3" y2="926.0" stroke-width="1.73"/>
<line x1="545.5" y1="880.2" x2="545.5" y2="892.0" stroke-width="3"/>
<line x1="486.0" y1="897.5" x2="500.5" y2="884.0" stroke-width="1.6"/>
<line x1="486.0" y1="868.5" x2="492.0" y2="868.5" stroke-width="1.6"/>
<line x1="479.0" y1="869.0" x2="486.0" y2="869.0" stroke-width="1.73"/>
<line x1="559.4" y1="869.0" x2="567.0" y2="869.0" stroke-width="1.73"/>
<path d="M509.0,906.7 L511.0,910.8 L511.0,912 Q507.0,914 506.7,918 L506.7,925 Q507.5,929 508.7,931.8 L508.7,948.4" stroke-width="2.0"/>
<path d="M536.0,906.7 L534.0,910.8 L534.0,912 Q538.0,914 538.3,918 L538.3,925 Q537.5,929 536.3,931.8 L536.3,970.7" stroke-width="2.0"/>
<line x1="511.0" y1="910.8" x2="534.0" y2="910.8" stroke-width="1.73"/>
<line x1="508.0" y1="914.2" x2="537.0" y2="914.2" stroke-width="1.73"/>
<line x1="506.7" y1="918.0" x2="538.3" y2="918.0" stroke-width="1.73"/>
<line x1="506.7" y1="925.0" x2="538.3" y2="925.0" stroke-width="1.73"/>
<line x1="537.0" y1="942.2" x2="555.8" y2="923.6" stroke-width="1.6"/>
<line x1="545.5" y1="926.0" x2="556.0" y2="916.0" stroke-width="1.6"/>
<path d="M540.8,905.4 Q541.5,895 544.4,893.9 L644,918.4" stroke-width="1.86"/>
<path d="M558,922.8 L637.6,943 L642,918.4" stroke-width="1.86"/>
<line x1="637.6" y1="943.0" x2="644.8" y2="951.7" stroke-width="1.73"/>
<path d="M540.8,905.4 Q541.5,912 540,917 L540,926" stroke-width="1.73"/>
<line x1="540.8" y1="905.4" x2="639.8" y2="932.9" stroke-width="1.6" stroke-dasharray="46 4 8 4"/>
<line x1="556.0" y1="895.3" x2="567.6" y2="884.5" stroke-width="1.6"/>
<line x1="585.6" y1="903.3" x2="597.2" y2="892.4" stroke-width="1.6"/>
<line x1="616.0" y1="911.2" x2="628.2" y2="900.4" stroke-width="1.6"/>
<line x1="568.3" y1="940.0" x2="579.0" y2="930.0" stroke-width="1.6"/>
<line x1="598.0" y1="948.0" x2="609.4" y2="937.2" stroke-width="1.6"/>
<line x1="628.2" y1="956.0" x2="638.3" y2="946.0" stroke-width="1.6"/>
</g>
<g id="dims">
<line x1="740.0" y1="35.1" x2="859.0" y2="35.1" stroke-width="1.53"/>
<line x1="798.8" y1="36.0" x2="798.8" y2="932.0" stroke-width="1.6"/>
<polygon points="798.8,35.6 802.1,52.6 795.5,52.6" fill="#141414" stroke="none"/>
<polygon points="798.8,932.2 795.5,915.2 802.1,915.2" fill="#141414" stroke="none"/>
<line x1="851.7" y1="36.0" x2="851.7" y2="1003.0" stroke-width="1.6"/>
<polygon points="851.7,35.6 855.0,52.6 848.4,52.6" fill="#141414" stroke="none"/>
<polygon points="851.7,1003.0 848.4,986.0 855.0,986.0" fill="#141414" stroke="none"/>
<line x1="720.3" y1="932.2" x2="806.0" y2="932.2" stroke-width="1.6"/>
<line x1="523.0" y1="1003.0" x2="859.6" y2="1003.0" stroke-width="1.6"/>
<line x1="642.0" y1="908.4" x2="715.0" y2="908.4" stroke-width="1.6"/>
<line x1="640.0" y1="957.7" x2="715.0" y2="957.7" stroke-width="1.6"/>
<line x1="710.4" y1="909.0" x2="710.4" y2="957.0" stroke-width="1.6"/>
<polygon points="710.4,908.6 713.4,923.6 707.4,923.6" fill="#141414" stroke="none"/>
<polygon points="710.4,957.5 707.4,942.5 713.4,942.5" fill="#141414" stroke="none"/>
<line x1="644.8" y1="918.2" x2="684.0" y2="918.2" stroke-width="1.6"/>
<line x1="644.8" y1="951.4" x2="684.0" y2="951.4" stroke-width="1.6"/>
<line x1="678.0" y1="893.3" x2="678.0" y2="975.3" stroke-width="1.6"/>
<polygon points="678.0,918.0 675.0,902.0 681.0,902.0" fill="#141414" stroke="none"/>
<polygon points="678.0,951.6 681.0,967.6 675.0,967.6" fill="#141414" stroke="none"/>
<line x1="400.1" y1="950.0" x2="400.1" y2="1064.0" stroke-width="1.6"/>
<line x1="644.8" y1="951.0" x2="644.8" y2="1064.0" stroke-width="1.6"/>
<line x1="400.5" y1="1057.0" x2="644.4" y2="1057.0" stroke-width="1.6"/>
<polygon points="400.3,1057.0 418.3,1054.0 418.3,1060.0" fill="#141414" stroke="none"/>
<polygon points="644.6,1057.0 626.6,1060.0 626.6,1054.0" fill="#141414" stroke="none"/>
<line x1="306.6" y1="933.4" x2="362.0" y2="933.4" stroke-width="1.86"/>
<polygon points="376.0,933.4 359.0,936.2 359.0,930.6" fill="#141414" stroke="none"/>
</g>
<g id="labels" class="lab">
<text transform="translate(306.3,925.6) scale(0.775,1)" font-size="20.5">Вход</text>
<text transform="translate(306.3,953.4) scale(0.775,1)" font-size="20.5">среды</text>
<text transform="translate(791.3,490) rotate(-90) scale(0.66,1)" font-size="27">h</text>
<text transform="translate(846,526.5) rotate(-90) scale(0.66,1)" font-size="27">H</text>
<text transform="translate(673.5,939) rotate(-90) scale(0.66,1)" font-size="27">D</text>
<text transform="translate(703,944.3) rotate(-90) scale(0.66,1)" font-size="27">D1</text>
<text transform="translate(517.6,1050) scale(0.66,1)" font-size="27">L</text>
</g></g>
</svg>
</body></html>
